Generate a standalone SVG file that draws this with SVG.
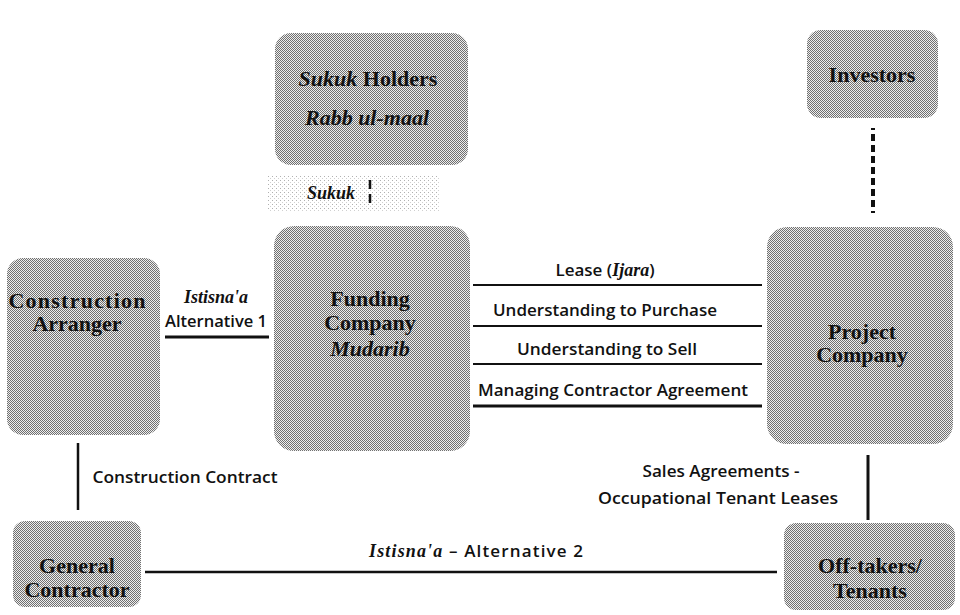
<svg xmlns="http://www.w3.org/2000/svg" width="960" height="615" viewBox="0 0 960 615">
  <defs>
    <!-- halftone-style grey fill used by every entity box -->
    <pattern id="halftone" width="2" height="2" patternUnits="userSpaceOnUse">
      <rect width="2" height="2" fill="#eeeeee"/>
      <rect width="1" height="1" fill="#707070"/>
      <rect x="1" y="1" width="1" height="1" fill="#707070"/>
    </pattern>
    <!-- sparse dot screen behind the Sukuk label -->
    <pattern id="lightdots" width="4" height="4" patternUnits="userSpaceOnUse">
      <rect width="4" height="4" fill="#ffffff"/>
      <rect width="1" height="1" fill="#b0b0b0"/>
      <rect x="2" y="2" width="1" height="1" fill="#d0d0d0"/>
    </pattern>
    <style>
      .box { fill: url(#halftone); }
      .name { font-family: "Liberation Serif", "DejaVu Serif", serif; font-weight: bold; font-size: 22px; fill: #111; text-anchor: middle; }
      .ital { font-style: italic; }
      .lbl { font-family: "Open Sans", "Liberation Sans", sans-serif; font-weight: 600; font-size: 17px; fill: #111; text-anchor: middle; }
      .lblit { font-family: "Liberation Serif", serif; font-style: italic; font-weight: bold; font-size: 18px; }
      .link { stroke: #111; fill: none; }
    </style>
  </defs>

  <!-- connectors -->
  <g id="connectors">
    <!-- Sukuk issue between holders and funding company -->
    <rect x="268" y="175" width="172" height="37" fill="url(#lightdots)"/>
    <line class="link" x1="370" y1="180" x2="370" y2="206" stroke-width="2.5" stroke-dasharray="9 5"/>
    <text class="lbl" x="331" y="199"><tspan class="lblit" font-size="17">Sukuk</tspan></text>

    <!-- Investors to project company -->
    <line class="link" x1="873" y1="128" x2="873" y2="213" stroke-width="4" stroke-dasharray="2 4 7 4 7 4 7 4 7 4 7 4 7 4 7 4"/>

    <!-- Istisna'a Alternative 1 -->
    <line class="link" x1="165" y1="337" x2="269" y2="337" stroke-width="3"/>
    <text class="lbl" x="216" y="303"><tspan class="lblit">Istisna'a</tspan></text>
    <text class="lbl" x="216" y="327" textLength="102" lengthAdjust="spacingAndGlyphs">Alternative 1</text>

    <!-- agreements between funding company and project company -->
    <line class="link" x1="473" y1="285" x2="762" y2="285" stroke-width="2"/>
    <line class="link" x1="473" y1="326" x2="762" y2="326" stroke-width="2"/>
    <line class="link" x1="473" y1="364" x2="762" y2="364" stroke-width="2"/>
    <line class="link" x1="473" y1="406" x2="762" y2="406" stroke-width="3"/>
    <text class="lbl" x="605" y="276">Lease (<tspan class="lblit">Ijara</tspan>)</text>
    <text class="lbl" x="605" y="316" textLength="224" lengthAdjust="spacingAndGlyphs">Understanding to Purchase</text>
    <text class="lbl" x="607" y="355" textLength="180" lengthAdjust="spacingAndGlyphs">Understanding to Sell</text>
    <text class="lbl" x="613" y="396" textLength="270" lengthAdjust="spacingAndGlyphs">Managing Contractor Agreement</text>

    <!-- construction contract -->
    <line class="link" x1="78" y1="443" x2="78" y2="510" stroke-width="2.5"/>
    <text class="lbl" x="185" y="483" textLength="185" lengthAdjust="spacingAndGlyphs">Construction Contract</text>

    <!-- Istisna'a Alternative 2 -->
    <line class="link" x1="145" y1="572" x2="777" y2="572" stroke-width="2.5"/>
    <text class="lbl" x="476" y="557" textLength="214" lengthAdjust="spacing"><tspan class="lblit">Istisna'a</tspan> – Alternative 2</text>

    <!-- sales agreements -->
    <line class="link" x1="868" y1="455" x2="868" y2="520" stroke-width="3"/>
    <text class="lbl" x="721" y="477" textLength="157" lengthAdjust="spacingAndGlyphs">Sales Agreements -</text>
    <text class="lbl" x="718" y="504" textLength="240" lengthAdjust="spacingAndGlyphs">Occupational Tenant Leases</text>
  </g>

  <g id="sukuk-holders">
    <rect class="box" x="275" y="33" width="193" height="132" rx="16"/>
    <text class="name" x="368" y="86"><tspan class="ital">Sukuk</tspan> Holders</text>
    <text class="name ital" x="367" y="125">Rabb ul-maal</text>
  </g>

  <g id="investors">
    <rect class="box" x="807" y="30" width="131" height="88" rx="14"/>
    <text class="name" x="872" y="82">Investors</text>
  </g>

  <g id="construction-arranger">
    <rect class="box" x="7" y="258" width="153" height="177" rx="16"/>
    <text class="name" x="77" y="308" textLength="137" lengthAdjust="spacing">Construction</text>
    <text class="name" x="77" y="331">Arranger</text>
  </g>

  <g id="funding-company">
    <rect class="box" x="274" y="226" width="196" height="225" rx="20"/>
    <text class="name" x="370" y="306">Funding</text>
    <text class="name" x="370" y="330">Company</text>
    <text class="name ital" x="370" y="356">Mudarib</text>
  </g>

  <g id="project-company">
    <rect class="box" x="767" y="227" width="186" height="217" rx="20"/>
    <text class="name" x="862" y="339">Project</text>
    <text class="name" x="862" y="362">Company</text>
  </g>

  <g id="general-contractor">
    <rect class="box" x="13" y="521" width="128" height="86" rx="12"/>
    <text class="name" x="77" y="573">General</text>
    <text class="name" x="77" y="597">Contractor</text>
  </g>

  <g id="off-takers">
    <rect class="box" x="784" y="523" width="171" height="87" rx="12"/>
    <text class="name" x="870" y="573">Off-takers/</text>
    <text class="name" x="870" y="598">Tenants</text>
  </g>
</svg>
